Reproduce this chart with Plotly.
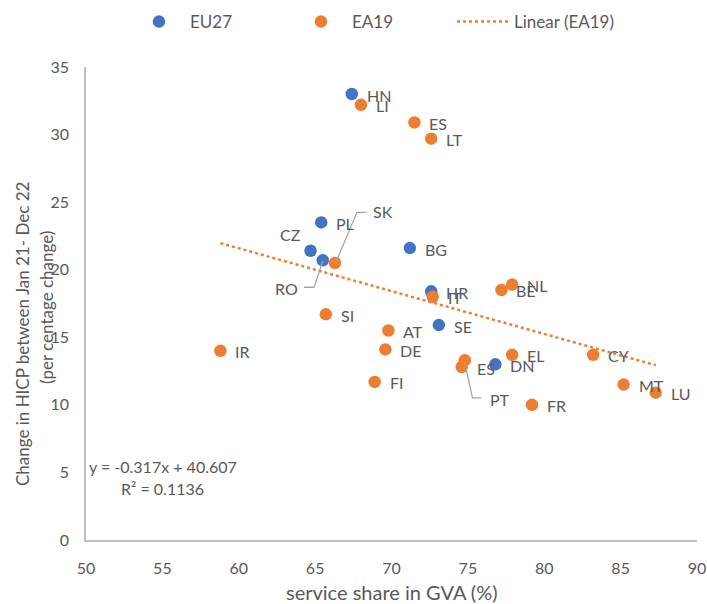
import numpy as np
import plotly.graph_objects as go

# ---- data -------------------------------------------------------------
eu27_codes = ["HN", "PL", "CZ", "RO", "BG", "HR", "SE", "DN"]
eu27_services = [67.4, 65.4, 64.7, 65.5, 71.2, 72.6, 73.1, 76.8]
eu27_hicp = [33.0, 23.5, 21.4, 20.7, 21.6, 18.4, 15.9, 13.0]

ea19_codes = ["LI", "ES", "LT", "SK", "IT", "BE", "NL", "SI", "AT", "DE",
              "PT", "ES", "EL", "FI", "FR", "CY", "MT", "LU", "IR"]
ea19_services = [68.0, 71.5, 72.6, 66.3, 72.7, 77.2, 77.9, 65.7, 69.8, 69.6,
                 74.8, 74.6, 77.9, 68.9, 79.2, 83.2, 85.2, 87.3, 58.8]
ea19_hicp = [32.2, 30.9, 29.7, 20.5, 18.0, 18.5, 18.9, 16.7, 15.5, 14.1,
             13.3, 12.8, 13.7, 11.7, 10.0, 13.7, 11.5, 10.9, 14.0]

# linear trend fitted on EA19
trend_slope = -0.317
trend_intercept = 40.607
trend_r2 = 0.1136

x_ticks = [50, 55, 60, 65, 70, 75, 80, 85, 90]
y_ticks = [0, 5, 10, 15, 20, 25, 30, 35]

# ---- styling -----------------------------------------------------------
BLUE = "#4472C4"
ORANGE = "#ED7D31"
TEXT = "#595959"
AXIS = "#BFBFBF"
FONT = "Lato"
FS = 16

# label placement (pixel offsets from the marker); default is right of point
DEFAULT_LABEL = dict(xanchor="left", xshift=13, yshift=-1)
SPECIAL_LABELS = {
    ("EU27", 2): dict(xanchor="center", xshift=-20, yshift=16),   # CZ
    ("EU27", 3): dict(xanchor="right", xshift=-23, yshift=-28),   # RO
    ("EA19", 3): dict(xanchor="left", xshift=36, yshift=51),      # SK
    ("EA19", 10): dict(xanchor="left", xshift=23, yshift=-39),    # PT
}
# leader lines (pixel paths relative to the marker, y up)
LEADERS = {
    ("EU27", 3): "M 0,-1 L -8.7,-27 L -18.7,-27",
    ("EA19", 3): "M 1,1 L 22,50.6 L 31.4,50.6",
    ("EA19", 10): "M 0.3,-3.3 L 7.6,-37.6 L 16.6,-37.6",
}

fig = go.Figure()

fig.add_trace(go.Scatter(
    x=eu27_services, y=eu27_hicp, mode="markers", name="EU27",
    marker=dict(color=BLUE, size=12.5, line=dict(width=0)),
))
fig.add_trace(go.Scatter(
    x=ea19_services, y=ea19_hicp, mode="markers", name="EA19",
    marker=dict(color=ORANGE, size=12.5, line=dict(width=0)),
))

trend_x = np.array([min(ea19_services), max(ea19_services)])
trend_y = trend_slope * trend_x + trend_intercept
fig.add_trace(go.Scatter(
    x=trend_x, y=trend_y, mode="lines", name="Linear (EA19)",
    line=dict(color=ORANGE, width=2.5, dash="dot"),
))

annotations = []
shapes = []
for series, codes, xs, ys in (("EU27", eu27_codes, eu27_services, eu27_hicp),
                              ("EA19", ea19_codes, ea19_services, ea19_hicp)):
    for i, (code, xv, yv) in enumerate(zip(codes, xs, ys)):
        pos = SPECIAL_LABELS.get((series, i), DEFAULT_LABEL)
        annotations.append(dict(
            x=xv, y=yv, xref="x", yref="y", text=code, showarrow=False,
            xanchor=pos["xanchor"], yanchor="middle",
            xshift=pos["xshift"], yshift=pos["yshift"],
            font=dict(family=FONT, size=FS, color=TEXT),
        ))
        if (series, i) in LEADERS:
            shapes.append(dict(
                type="path", xref="x", yref="y",
                xsizemode="pixel", ysizemode="pixel",
                xanchor=xv, yanchor=yv, path=LEADERS[(series, i)],
                line=dict(color="#A6A6A6", width=1.3), layer="above",
            ))

# trendline equation
annotations.append(dict(
    x=0.126, y=0.155, xref="paper", yref="paper", showarrow=False,
    text=f"y = {trend_slope:.3f}x + {trend_intercept:.3f}",
    xanchor="center", yanchor="middle",
    font=dict(family=FONT, size=FS, color=TEXT),
))
annotations.append(dict(
    x=0.126, y=0.108, xref="paper", yref="paper", showarrow=False,
    text=f"R² = {trend_r2:.4f}",
    xanchor="center", yanchor="middle",
    font=dict(family=FONT, size=FS, color=TEXT),
))

# axis titles
annotations.append(dict(
    x=0.5, y=-0.11, xref="paper", yref="paper", showarrow=False,
    text="service share in GVA (%)", xanchor="center", yanchor="middle",
    font=dict(family=FONT, size=20, color=TEXT),
))
annotations.append(dict(
    x=-0.1046, y=0.4355, xref="paper", yref="paper", showarrow=False,
    text="Change in HICP between Jan 21- Dec 22", textangle=-90,
    xanchor="center", yanchor="middle",
    font=dict(family=FONT, size=17, color=TEXT),
))
annotations.append(dict(
    x=-0.0655, y=0.4926, xref="paper", yref="paper", showarrow=False,
    text="(per centage change)", textangle=-90,
    xanchor="center", yanchor="middle",
    font=dict(family=FONT, size=17, color=TEXT),
))

fig.update_layout(
    width=707, height=604,
    margin=dict(l=86, r=10, t=67, b=64, autoexpand=False),
    plot_bgcolor="white", paper_bgcolor="white",
    font=dict(family=FONT, size=FS, color=TEXT),
    showlegend=True,
    legend=dict(
        orientation="h", x=0.0687, y=1.095, xanchor="left", yanchor="middle",
        font=dict(family=FONT, size=17, color=TEXT),
        itemwidth=52, entrywidth=95, entrywidthmode="pixels",
        bgcolor="rgba(0,0,0,0)",
    ),
    xaxis=dict(
        range=[50, 90], tickvals=x_ticks, ticktext=[str(t) for t in x_ticks],
        showgrid=False, zeroline=False, showline=True, automargin=False,
        linecolor=AXIS, linewidth=1.5, ticks="", ticklabelstandoff=13,
        ticklabeloverflow="allow",
        tickfont=dict(family=FONT, size=FS, color=TEXT),
    ),
    yaxis=dict(
        range=[0, 35], tickvals=y_ticks, ticktext=[str(t) for t in y_ticks],
        showgrid=False, zeroline=False, showline=True, automargin=False,
        linecolor=AXIS, linewidth=1.5, ticks="", ticklabelstandoff=12,
        tickfont=dict(family=FONT, size=FS, color=TEXT),
    ),
    annotations=annotations,
    shapes=shapes,
)

fig.write_html("out.html")
